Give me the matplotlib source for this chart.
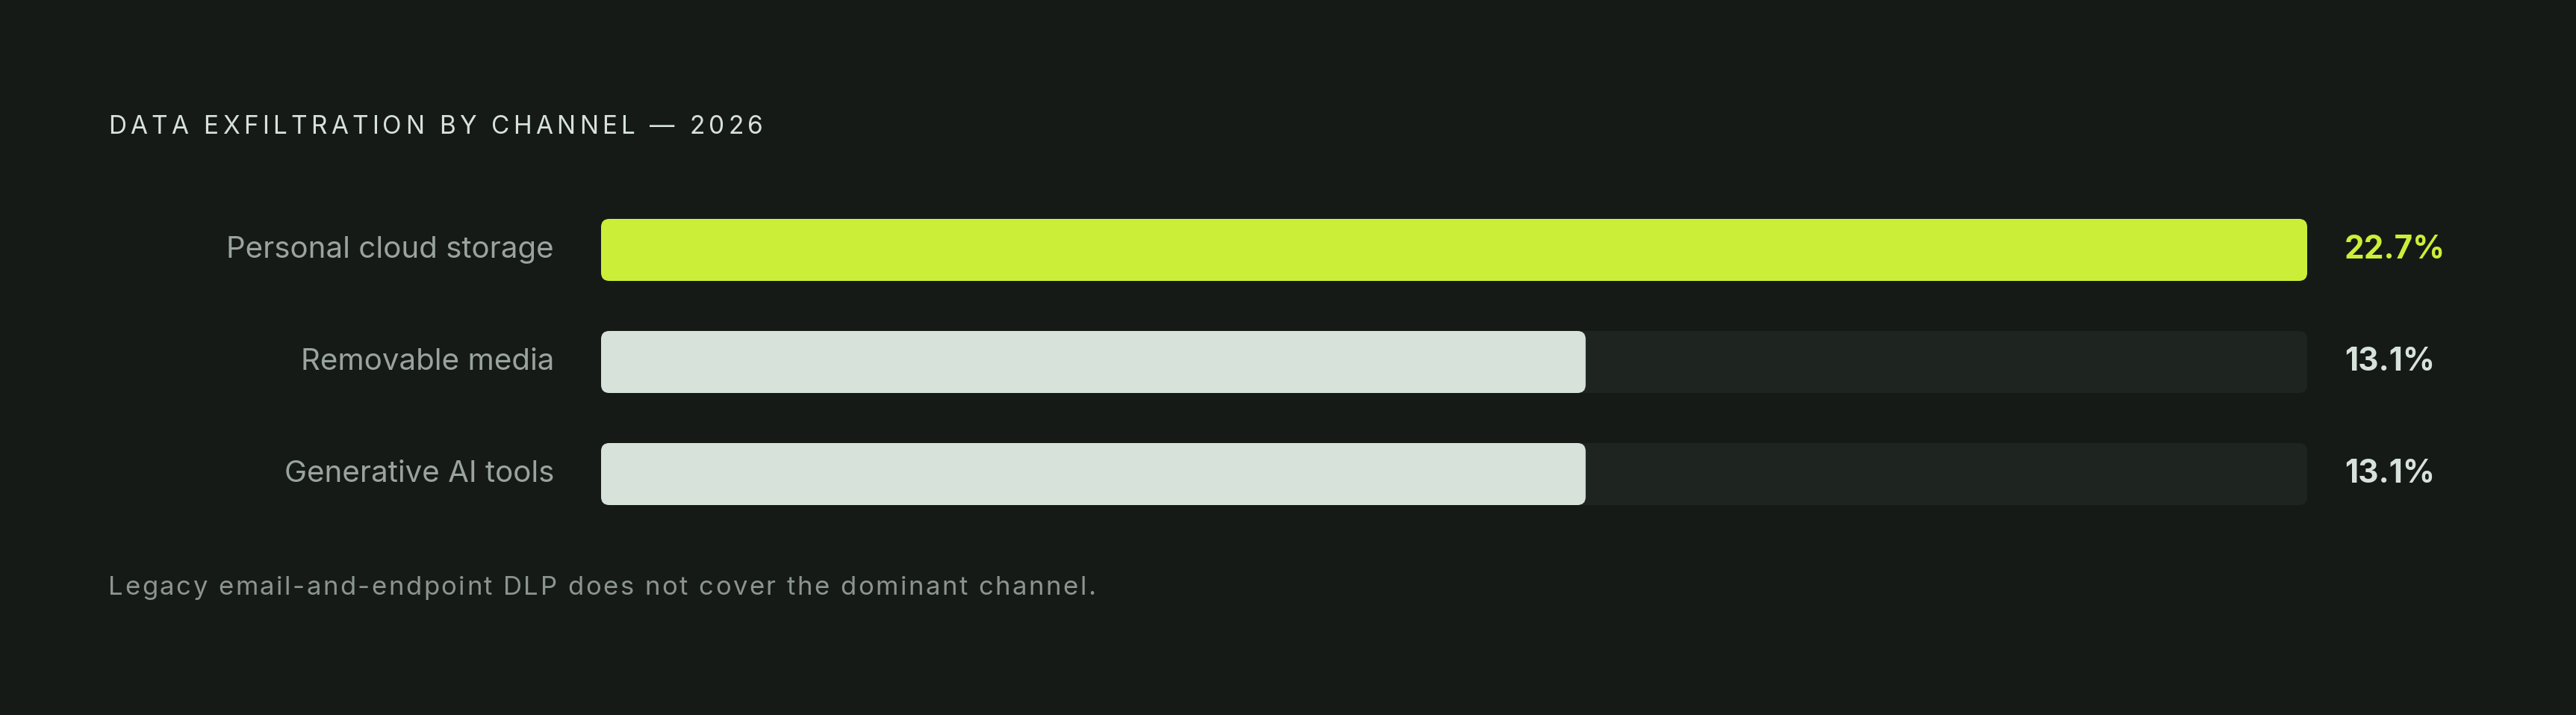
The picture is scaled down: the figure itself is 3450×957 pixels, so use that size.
import matplotlib
matplotlib.use("Agg")
import matplotlib.pyplot as plt
from matplotlib.patches import FancyBboxPatch

# chart data
channels = ["Personal cloud storage", "Removable media", "Generative AI tools"]
shares = [22.7, 13.1, 13.1]
value_labels = ["22.7%", "13.1%", "13.1%"]
title = "DATA EXFILTRATION BY CHANNEL \u2014 2026"
note = "Legacy email-and-endpoint DLP does not cover the dominant channel."

BG = "#161a17"
TRACK = "#1e2521"
ACCENT = "#cbef38"
LIGHT = "#d6e2da"
MUTED = "#9aa49e"
NOTE_C = "#8b958f"

W, H, DPI = 3450, 957, 100
plt.rcParams["font.family"] = ["Inter", "DejaVu Sans"]


def spaced_text(fig, x, y, s, spacing, **kw):
    # draw text char by char with extra tracking (x, y in figure pixels)
    r = fig.canvas.get_renderer()
    probe = fig.text(0, 0, "", **kw)

    def width(t):
        probe.set_text(t)
        return probe.get_window_extent(r).width

    base = width("II")
    for ch in s:
        fig.text(x / W, y / H, ch, va="center", ha="left", **kw)
        x += width("I" + ch + "I") - base + spacing
    probe.remove()


def main():
    fig = plt.figure(figsize=(W / DPI, H / DPI), dpi=DPI, facecolor=BG)

    # bar axes: track spans 805..3090 px, rows centred at 334, 484, 634 px
    left, right = 805, 3090
    top, bottom = 334.5 - 75, 634.5 + 75
    ax = fig.add_axes([left / W, 1 - bottom / H, (right - left) / W, (bottom - top) / H])
    ax.set_facecolor(BG)
    vmax = max(shares)
    ax.set_xlim(0, vmax)
    ax.set_ylim(len(channels) - 0.5, -0.5)
    ax.axis("off")

    px_x = vmax / (right - left)
    px_y = 1.0 / 150
    aspect = px_y / px_x
    bar_h = 83 * px_y
    rad = 11 * px_x

    for i, (name, v, lab) in enumerate(zip(channels, shares, value_labels)):
        lead = i == 0
        track = FancyBboxPatch((0, i - bar_h / 2), vmax, bar_h,
                               boxstyle=f"round,pad=0,rounding_size={rad}",
                               mutation_aspect=aspect, fc=TRACK, ec="none")
        ax.add_patch(track)
        bar = FancyBboxPatch((0, i - bar_h / 2), v, bar_h,
                             boxstyle=f"round,pad=0,rounding_size={rad}",
                             mutation_aspect=aspect, fc=ACCENT if lead else LIGHT, ec="none")
        ax.add_patch(bar)
        ax.text(-63 / (right - left), i, name, transform=ax.get_yaxis_transform(),
                ha="right", va="center", fontsize=29, color=MUTED)
        ax.text(1 + 50 / (right - left), i, lab, transform=ax.get_yaxis_transform(),
                ha="left", va="center", fontsize=30.5, fontweight="bold",
                color=ACCENT if lead else LIGHT)

    spaced_text(fig, 145, H - 170, title, 5.3, fontsize=24, color=LIGHT)
    spaced_text(fig, 145, H - 787, note, 2.5, fontsize=25, color=NOTE_C)

    fig.savefig("out.png", dpi=DPI, facecolor=BG)


if __name__ == "__main__":
    main()
